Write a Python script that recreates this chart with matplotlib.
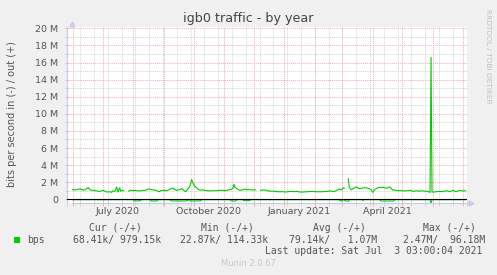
import numpy as np
import pandas as pd
import matplotlib
matplotlib.use("Agg")
import matplotlib.pyplot as plt
from matplotlib.transforms import blended_transform_factory

# ---------------- data ----------------
start_date = "2020-05-31"
end_days = 400

# out (+) traffic, Mbit/s, sampled on day offsets from start_date (NaN = gap)
out_days = [0, 3, 5, 8, 11, 13, 16, 18, 20, 23, 26, 28, 31, 33, 35, 38, 40, 41, 43, 45,
            46, 48, 49, 51, 52, 53, 57, 59, 61, 63, 66, 69, 71, 73, 76, 78, 80, 82, 85, 88,
            90, 93, 95, 98, 100, 102, 104, 106, 109, 111, 113, 115, 117, 119, 121, 123, 124, 126, 128, 130,
            132, 134, 137, 140, 143, 146, 149, 152, 155, 158, 161, 163, 164, 165, 167, 169, 171, 173, 175, 177,
            179, 181, 183, 186, 187, 191, 193, 195, 198, 201, 204, 207, 210, 213, 216, 219, 222, 225, 228, 231,
            234, 237, 240, 243, 246, 249, 252, 255, 258, 261, 263, 266, 268, 271, 273, 275, 276, 277, 280, 281,
            283, 285, 288, 291, 294, 297, 300, 303, 305, 307, 310, 313, 316, 319, 322, 325, 328, 331, 334, 337,
            340, 343, 346, 349, 352, 355, 358, 361, 363, 364, 365, 367, 370, 373, 376, 380, 383, 386, 389, 391,
            393, 396, 399]
out_mbps = [1.13, 1.10, 1.15, 1.22, 1.08, 1.12, 1.37, 1.10, 1.05, 1.02, 0.95, 0.92, 1.05, 0.95, 0.85, 0.88, 0.82, 1.00, 0.90, 1.45,
            0.85, 1.35, 0.95, 1.05, 1.00, np.nan, 0.95, 1.05, 1.02, 1.05, 1.00, 0.98, 1.05, 1.00, 1.15, 1.22, 1.15, 1.10, 1.05, 0.88,
            1.02, 1.05, 1.00, 1.10, 1.25, 1.30, 1.15, 1.05, 1.15, 1.25, 1.05, 0.88, 1.20, 1.45, 2.30, 1.75, 1.55, 1.35, 1.15, 1.05,
            1.10, 1.05, 1.00, 0.98, 1.02, 1.00, 1.05, 1.05, 1.02, 1.08, 1.15, 1.30, 1.75, 1.40, 1.25, 1.10, 1.05, 1.12, 1.20, 1.10,
            1.15, 1.12, 1.08, 1.10, np.nan, 1.05, 1.08, 1.10, 1.00, 0.95, 0.95, 0.90, 0.88, 0.90, 0.85, 0.88, 0.92, 0.90, 0.92, 0.85,
            0.85, 0.88, 0.90, 0.92, 0.90, 0.88, 0.88, 0.90, 0.92, 0.98, 0.95, 0.90, 1.05, 1.20, 1.10, 1.35, 1.30, np.nan, 2.40, 1.40,
            1.10, 1.25, 1.45, 1.25, 1.30, 1.35, 1.30, 1.15, 0.80, 1.15, 1.35, 1.40, 1.38, 1.30, 1.45, 1.10, 1.05, 1.00, 1.02, 0.98,
            1.00, 1.05, 0.92, 1.00, 0.95, 1.00, 0.95, 0.92, 0.80, 16.60, 0.85, 0.85, 0.90, 0.92, 0.90, 1.00, 0.88, 1.05, 0.90, 0.95,
            1.05, 0.98, 1.00]

# in (-) traffic, Mbit/s (drawn negative)
in_days = [0, 20, 30, 40, 55, 62, 63, 69, 70, 79, 80, 86, 87, 99, 100, 115, 118, 120, 130, 131,
           160, 161, 166, 167, 173, 174, 180, 181, 270, 273, 274, 280, 281, 294, 295, 296, 312, 313, 326, 327,
           363, 364, 365, 399]
in_mbps = [0.05, 0.05, 0.06, 0.05, 0.05, 0.05, 0.18, 0.18, 0.05, 0.05, 0.20, 0.18, 0.05, 0.05, 0.18, 0.20, 0.05, 0.20, 0.18, 0.05,
           0.05, 0.18, 0.20, 0.05, 0.05, 0.15, 0.15, 0.05, 0.05, 0.20, 0.05, 0.25, 0.05, 0.05, 0.15, 0.05, 0.05, 0.20, 0.20, 0.05,
           0.05, 0.45, 0.05, 0.05]

y_ticks = [0, 2, 4, 6, 8, 10, 12, 14, 16, 18, 20]
y_ticklabels = ["0", "2 M", "4 M", "6 M", "8 M", "10 M", "12 M", "14 M", "16 M", "18 M", "20 M"]
x_label_months = ["2020-07-01", "2020-10-01", "2021-01-01", "2021-04-01"]
x_label_texts = ["July 2020", "October 2020", "January 2021", "April 2021"]

title = "igb0 traffic - by year"
ylabel = "bits per second in (-) / out (+)"
legend_headers = ["Cur (-/+)", "Min (-/+)", "Avg (-/+)", "Max (-/+)"]
legend_series = "bps"
legend_values = ["68.41k/ 979.15k", "22.87k/ 114.33k", "79.14k/   1.07M", "2.47M/  96.18M"]
last_update = "Last update: Sat Jul  3 03:00:04 2021"
footer = "Munin 2.0.67"
side_text = "RRDTOOL / TOBI OETIKER"

# ---------------- style ----------------
W, H = 497, 275
BG = "#F0F0F0"
TXT = "#555555"
GREEN = "#00CC00"
GRID_MINOR = "#D4D4D4"
GRID_MAJOR = "#EEB0B0"
AXIS = "#C8C8F0"

fig = plt.figure(figsize=(W / 100, H / 100), dpi=100, facecolor=BG)

def fx(px):
    return px / W

def fy(py):
    return 1 - py / H

left, right, top, bottom = 66.5, 466.5, 26.5, 203.0
ax = fig.add_axes([fx(left), fy(bottom), fx(right - left), fy(top) - fy(bottom)])
ax.set_facecolor("white")

t0 = pd.Timestamp(start_date)
def day_of(s):
    return (pd.Timestamp(s) - t0).days

px_per_M = (199.3 - 28.3) / 20.0
ymin = -(bottom - 199.3) / px_per_M
ymax = 20 + (28.3 - top) / px_per_M
ax.set_xlim(-0.5, end_days - 0.5)
ax.set_ylim(ymin, ymax)

# grid
dot = (0, (1, 1))
minor_days = []
d = pd.Timestamp("2020-05-25")
while d <= pd.Timestamp("2021-07-05"):
    minor_days.append((d - t0).days)
    d += pd.Timedelta(days=14)
month_days = [(m - t0).days for m in pd.date_range("2020-06-01", "2021-07-01", freq="MS")]
for v in range(1, 21, 2):
    ax.axhline(v, color=GRID_MINOR, lw=0.7, ls=dot, zorder=1)
for xd in minor_days:
    ax.axvline(xd, color=GRID_MINOR, lw=0.7, ls=dot, zorder=1)
for v in range(2, 21, 2):
    ax.axhline(v, color=GRID_MAJOR, lw=0.7, ls=dot, zorder=1.5)
for xd in month_days:
    ax.axvline(xd, color=GRID_MAJOR, lw=0.7, ls=dot, zorder=1.5)

# data
ax.plot(in_days, -np.array(in_mbps), color=GREEN, lw=0.8, zorder=3)
ax.axhline(0, color="black", lw=0.8, zorder=4)
ax.plot(out_days, out_mbps, color=GREEN, lw=0.8, zorder=5)

# axes / ticks
for s in ["top", "right"]:
    ax.spines[s].set_visible(False)
ax.spines["left"].set_color(AXIS)
ax.spines["bottom"].set_color(AXIS)
ax.spines["left"].set_linewidth(0.8)
ax.spines["bottom"].set_linewidth(0.8)
ax.spines["bottom"].set_bounds(-0.5, end_days + 3)
ax.spines["left"].set_bounds(ymin, ymax)
ax.plot([end_days + 4.5], [ymin], marker=">", color=AXIS, ms=3.5, clip_on=False, zorder=6)
ax.plot([-0.5], [ymax + 0.35], marker="^", color=AXIS, ms=3.5, clip_on=False, zorder=6)

ax.set_yticks(y_ticks)
ax.set_yticklabels(y_ticklabels)
ax.set_yticks(list(range(1, 21, 2)), minor=True)
ax.tick_params(axis="y", which="major", direction="inout", length=3, width=0.7,
               color=GRID_MAJOR, labelsize=6.8, labelcolor=TXT, pad=4.5)
ax.tick_params(axis="y", which="minor", direction="inout", length=3, width=0.7, color=GRID_MINOR)
ax.set_xticks(month_days)
ax.set_xticklabels([])
ax.set_xticks(minor_days, minor=True)
ax.tick_params(axis="x", which="major", direction="inout", length=4, width=0.7, color=GRID_MAJOR)
ax.tick_params(axis="x", which="minor", direction="inout", length=4, width=0.7, color=GRID_MINOR)

# month labels centred mid-month (rrdtool style)
tr = blended_transform_factory(ax.transData, fig.transFigure)
for m, lab in zip(x_label_months, x_label_texts):
    mid = day_of(m) + 15
    ax.text(mid, fy(212), lab, transform=tr, ha="center", va="center",
            fontsize=6.8, color=TXT)

# texts
fig.text(fx(248), fy(18.5), title, ha="center", va="center", fontsize=9.2, color="#444444")
fig.text(fx(12), fy(114.5), ylabel, rotation=90, ha="center", va="center", fontsize=7, color=TXT)
fig.text(fx(488), fy(56), side_text, rotation=270, ha="center", va="center", fontsize=5.3, color="#C0C0C0")

mono = "DejaVu Sans Mono"
for x0, s in zip([89, 201, 312.7, 423], legend_headers):
    fig.text(fx(x0), fy(228), s, ha="left", va="center", fontsize=7, family=mono, color=TXT)
fig.patches.append(plt.Rectangle((fx(14), fy(242.5)), fx(6), fy(236.5) - fy(242.5),
                                 transform=fig.transFigure, facecolor=GREEN, edgecolor="none"))
fig.text(fx(27), fy(240), legend_series, ha="left", va="center", fontsize=7, family=mono, color=TXT)
for x0, s in zip([72.7, 180, 289, 403], legend_values):
    fig.text(fx(x0), fy(240), s, ha="left", va="center", fontsize=7, family=mono, color=TXT)
fig.text(fx(482), fy(251), last_update, ha="right", va="center", fontsize=7, family=mono, color=TXT)
fig.text(fx(248.5), fy(263.5), footer, ha="center", va="center", fontsize=6, color="#C8C8C8")

fig.savefig("out.png", dpi=100, facecolor=BG)
